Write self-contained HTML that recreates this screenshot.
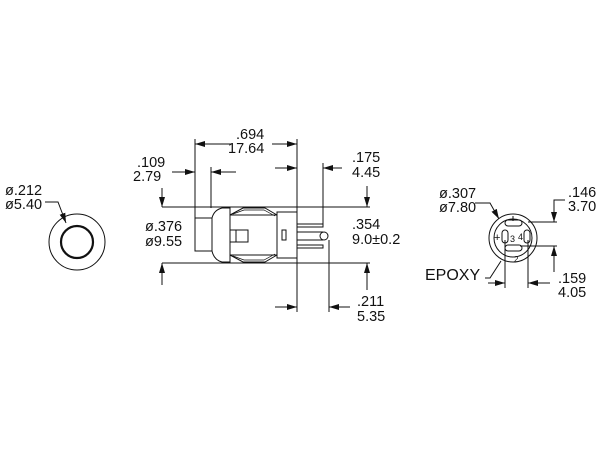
<!DOCTYPE html>
<html><head><style>html,body{margin:0;padding:0;background:#fff}svg{display:block}text{font-family:"Liberation Sans",Arial,sans-serif;font-size:14.5px;fill:#111}</style></head><body>
<svg width="600" height="450" viewBox="0 0 600 450" xmlns="http://www.w3.org/2000/svg">
<defs><marker id="a" viewBox="0 0 10 6" refX="10" refY="3" markerWidth="10" markerHeight="6" orient="auto" markerUnits="userSpaceOnUse"><path d="M0,0L10,3L0,6z" fill="#111"/></marker></defs>
<g stroke="#111" fill="none" stroke-width="1">
<circle cx="77" cy="242" r="28"/>
<circle cx="77" cy="242" r="16" stroke-width="2.2"/>
<polyline points="45,202 58,202 66,223" marker-end="url(#a)"/>
<line x1="195" y1="139" x2="195" y2="218"/>
<line x1="297" y1="139" x2="297" y2="312"/>
<line x1="211" y1="167" x2="211" y2="208"/>
<line x1="323" y1="163" x2="323" y2="224"/>
<line x1="329" y1="240" x2="329" y2="312"/>
<line x1="162" y1="207" x2="370" y2="207"/>
<line x1="162" y1="263" x2="370" y2="263"/>
<line x1="232" y1="144" x2="195" y2="144" marker-end="url(#a)"/>
<line x1="272" y1="144" x2="297" y2="144" marker-end="url(#a)"/>
<line x1="172" y1="172" x2="195" y2="172" marker-end="url(#a)"/>
<line x1="236" y1="172" x2="211" y2="172" marker-end="url(#a)"/>
<line x1="275" y1="168" x2="297" y2="168" marker-end="url(#a)"/>
<line x1="342" y1="168" x2="323" y2="168" marker-end="url(#a)"/>
<line x1="275" y1="307" x2="297" y2="307" marker-end="url(#a)"/>
<line x1="350" y1="307" x2="329" y2="307" marker-end="url(#a)"/>
<line x1="162" y1="188" x2="162" y2="207" marker-end="url(#a)"/>
<line x1="162" y1="285" x2="162" y2="263" marker-end="url(#a)"/>
<line x1="367" y1="186" x2="367" y2="207" marker-end="url(#a)"/>
<line x1="367" y1="290" x2="367" y2="263" marker-end="url(#a)"/>
<rect x="195" y="218" width="17" height="33"/>
<path d="M212,251 L212,218 Q214,210 222,208 L230,208 L230,262 L222,262 Q214,260 212,251 Z"/>
<path d="M230,215 L243,208 L265,208 L277,215"/>
<path d="M230,255 L243,262 L265,262 L277,255"/>
<path d="M233,214 L244,210 L264,210 L275,216" stroke-width="0.7"/>
<path d="M233,256 L244,260 L264,260 L275,254" stroke-width="0.7"/>
<line x1="230" y1="215" x2="277" y2="215"/>
<line x1="230" y1="255" x2="277" y2="255"/>
<rect x="230" y="230" width="18" height="12"/>
<line x1="236" y1="230" x2="236" y2="242"/>
<rect x="277" y="212" width="20" height="46"/>
<rect x="282" y="230" width="4" height="10"/>
<rect x="297" y="224" width="26" height="3"/>
<rect x="297" y="245" width="26" height="3"/>
<line x1="297" y1="232" x2="323" y2="232"/>
<line x1="297" y1="240" x2="323" y2="240"/>
<circle cx="324" cy="236" r="4"/>
<circle cx="513" cy="238" r="24"/>
<circle cx="513" cy="238" r="19"/>
<polyline points="475,203 490,203 499,219" marker-end="url(#a)"/>
<polyline points="485,278 490,278 501,261"/>
<rect x="505" y="220" width="17" height="6" rx="3"/>
<rect x="505" y="245" width="17" height="6" rx="3"/>
<rect x="502" y="230" width="6" height="13" rx="3"/>
<rect x="524" y="230" width="6" height="13" rx="3"/>
<line x1="513" y1="216" x2="513" y2="221"/>
<line x1="528" y1="222" x2="557" y2="222"/>
<line x1="520" y1="246" x2="557" y2="246"/>
<polyline points="565,200 554,200 554,222" marker-end="url(#a)"/>
<line x1="554" y1="272" x2="554" y2="246" marker-end="url(#a)"/>
<line x1="505" y1="240" x2="505" y2="288"/>
<line x1="528" y1="240" x2="528" y2="288"/>
<line x1="488" y1="283" x2="505" y2="283" marker-end="url(#a)"/>
<line x1="550" y1="283" x2="528" y2="283" marker-end="url(#a)"/>
</g>
<text x="5" y="195">ø.212</text><text x="5" y="209">ø5.40</text>
<text x="236" y="139">.694</text><text x="228" y="153">17.64</text>
<text x="137" y="167">.109</text><text x="133" y="181">2.79</text>
<text x="352" y="162">.175</text><text x="352" y="177">4.45</text>
<text x="145" y="231">ø.376</text><text x="145" y="246">ø9.55</text>
<text x="352" y="229">.354</text><text x="352" y="244">9.0±0.2</text>
<text x="357" y="306">.211</text><text x="357" y="321">5.35</text>
<text x="439" y="198">ø.307</text><text x="439" y="212">ø7.80</text>
<text x="568" y="197">.146</text><text x="568" y="211">3.70</text>
<text x="558" y="283">.159</text><text x="558" y="297">4.05</text>
<text x="425" y="280" style="font-size:16px">EPOXY</text>
<text x="494" y="241" style="font-size:11px">+</text>
<text x="510" y="242" style="font-size:9px">3</text>
<text x="518" y="240" style="font-size:9px">4</text>
<text x="514" y="262" style="font-size:8px">2</text>
</svg>
</body></html>
